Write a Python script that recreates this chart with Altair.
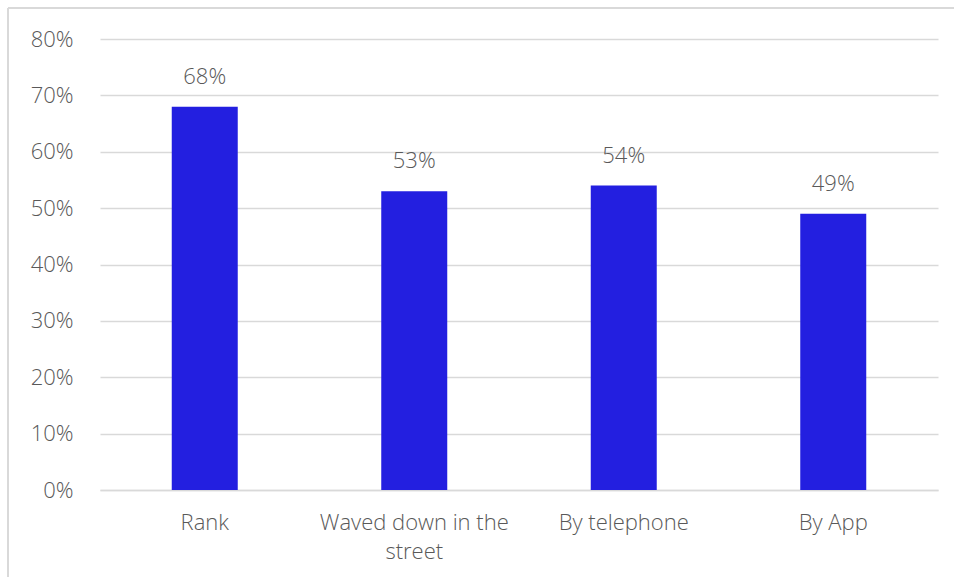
import altair as alt
import pandas as pd

categories = ["Rank", "Waved down in the street", "By telephone", "By App"]
values = [0.68, 0.53, 0.54, 0.49]

df = pd.DataFrame({"cat": categories, "val": values})

FONT = "Open Sans"
GRAY = "#595959"
FS = 22

base = alt.Chart(df).encode(
    x=alt.X(
        "cat:N",
        sort=categories,
        title=None,
        scale=alt.Scale(paddingInner=0.685, paddingOuter=0.3425),
        axis=alt.Axis(
            labelAngle=0,
            labelFont=FONT,
            labelFontSize=FS,
            labelFontWeight=300,
            labelColor=GRAY,
            labelPadding=22,
            labelLimit=300,
            labelLineHeight=29,
            ticks=False,
            domainColor="#d9d9d9",
            domainWidth=1.5,
            labelExpr="datum.label == 'Waved down in the street' ? ['Waved down in the', 'street'] : datum.label",
        ),
    ),
    y=alt.Y(
        "val:Q",
        title=None,
        scale=alt.Scale(domain=[0, 0.8]),
        axis=alt.Axis(
            format=".0%",
            values=[0, 0.1, 0.2, 0.3, 0.4, 0.5, 0.6, 0.7, 0.8],
            labelFont=FONT,
            labelFontSize=FS,
            labelFontWeight=300,
            labelColor=GRAY,
            labelPadding=27,
            ticks=False,
            domain=False,
            gridColor="#d9d9d9",
            gridWidth=1.5,
        ),
    ),
)

bars = base.mark_bar(color="#231FE0")
text = base.mark_text(
    baseline="alphabetic", dy=-23, font=FONT, fontSize=FS, fontWeight=300, color=GRAY
).encode(text=alt.Text("val:Q", format=".0%"))

border_left = alt.Chart(df).mark_rule(color="#d9d9d9", strokeWidth=2).encode(
    x=alt.value(-92), y=alt.value(-31), y2=alt.value(600)
)
border_top = alt.Chart(df).mark_rule(color="#d9d9d9", strokeWidth=2).encode(
    x=alt.value(-92), x2=alt.value(900), y=alt.value(-31)
)

chart = (
    alt.layer(bars, text, border_left, border_top)
    .properties(
        width=838,
        height=451,
        padding={"left": 100, "top": 39, "right": 16, "bottom": 87},
        autosize=alt.AutoSizeParams(type="none"),
        background="white",
    )
    .configure_view(stroke=None, clip=False)
)

chart.save("out.html", embed_options={"renderer": "svg", "actions": False})
